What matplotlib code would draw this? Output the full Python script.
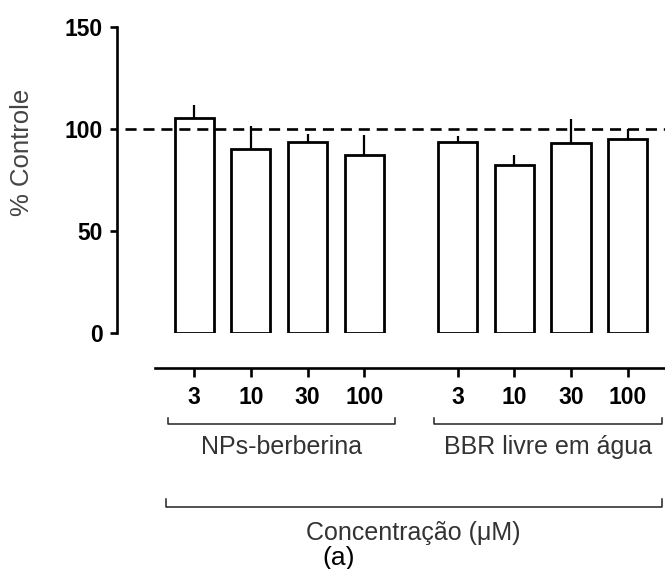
"""Viabilidade celular: NPs-berberina vs BBR livre em água"""

import matplotlib
matplotlib.use("Agg")
import matplotlib.pyplot as plt
import matplotlib.transforms as mtransforms
import numpy as np

plt.rcParams["font.family"] = ["Liberation Sans", "DejaVu Sans"]

# Data (% of control, mean and upper error)
concentrations = ["3", "10", "30", "100"]
groups = ["NPs-berberina", "BBR livre em água"]
nps_mean = [105.4, 90.1, 93.7, 87.2]
nps_err = [6.4, 11.5, 4.0, 10.0]
bbr_mean = [93.4, 82.3, 93.1, 95.1]
bbr_err = [3.3, 5.0, 11.8, 5.0]

# bar positions: two groups of four with a gap between them
gap = 0.65
pos_nps = np.arange(4)
pos_bbr = np.arange(4) + 4 + gap
positions = np.concatenate([pos_nps, pos_bbr])
means = nps_mean + bbr_mean
errs = nps_err + bbr_err

fig = plt.figure(figsize=(6.65, 5.69), dpi=100)
ax = fig.add_axes([117 / 665, 236 / 569, 548 / 665, 306 / 569])

# axis styling first (moving the spine resets the tick labels)
for side in ["top", "right"]:
    ax.spines[side].set_visible(False)
ax.spines["left"].set_linewidth(1.9)
ax.spines["bottom"].set_linewidth(1.9)
ax.spines["bottom"].set_position(("outward", 25))

ax.bar(positions, means, width=0.69, color="white", edgecolor="black",
       linewidth=2.0, zorder=3)
ax.errorbar(positions, means, yerr=[np.zeros(len(errs)), errs], fmt="none",
            ecolor="black", elinewidth=1.6, capsize=0, zorder=2)

# control level
ax.axhline(100, xmin=0.015, xmax=1, color="black", linewidth=1.9,
           linestyle=(0, (4.2, 2.6)), zorder=4)

ax.set_xlim(-1.363, 8.31)
ax.set_ylim(0, 150)
ax.spines["bottom"].set_bounds(-0.695, 8.31)

ax.set_yticks([0, 50, 100, 150])
ax.set_yticklabels(["0", "50", "100", "150"], fontsize=16.5, fontweight="bold")
ax.set_ylabel("% Controle", fontsize=18.5, color="#444444")
ax.yaxis.set_label_coords(-0.152, 0.59)

ax.set_xticks(positions)
ax.set_xticklabels(concentrations * 2, fontsize=16.5, fontweight="bold")

ax.tick_params(axis="y", direction="out", length=5, width=1.9, pad=5)
ax.tick_params(axis="x", direction="out", length=6.5, width=1.9, pad=6.5)

# group brackets below the axis
trans = mtransforms.blended_transform_factory(ax.transData, ax.transAxes)


def bracket(x0, x1, y, h, label, ly, size):
    ax.plot([x0, x0, x1, x1], [y + h, y, y, y + h], color="#222222",
            linewidth=1.1, transform=trans, clip_on=False)
    ax.text((x0 + x1) / 2, ly, label, transform=trans, ha="center",
            va="center", fontsize=size, color="#333333")


bracket(pos_nps[0] - 0.47, pos_nps[-1] + 0.54, -0.297, 0.018,
        groups[0], -0.372, 18)
bracket(pos_bbr[0] - 0.42, pos_bbr[-1] + 0.6, -0.297, 0.018,
        groups[1], -0.372, 18)
bracket(pos_nps[0] - 0.5, pos_bbr[-1] + 0.6, -0.569, 0.025,
        "Concentração (μM)", -0.655, 18)

ax.text(0.405, -0.735, "(a)", transform=ax.transAxes, ha="center",
        va="center", fontsize=19, color="black")

fig.savefig("out.png", dpi=100)
